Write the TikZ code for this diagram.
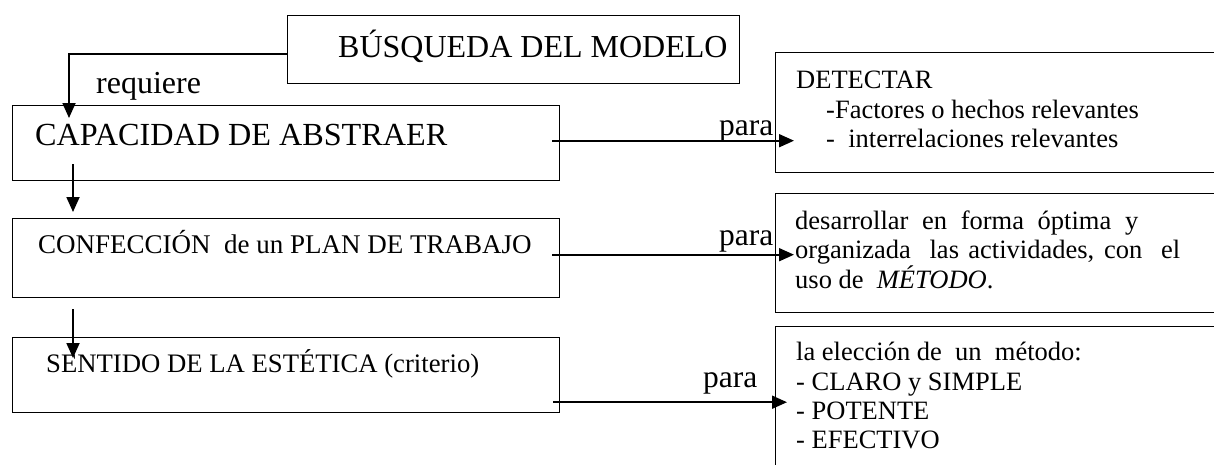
\documentclass[tikz,border=0pt]{standalone}
\usepackage{fontspec}
\setmainfont{Liberation Serif}
\usetikzlibrary{arrows.meta,calc}

\tikzset{
        box/.style={draw, line width=1.4pt, inner sep=0pt, anchor=north west},
        txt/.style={inner sep=0pt, anchor=base west},
        conn/.style={line width=1.8pt, -{Triangle[length=15pt,width=13pt]}},
        fs/.style={font=\fontsize{#1}{#1}\selectfont}
}

\begin{document}
\begin{tikzpicture}[x=1pt,y=-1pt]
        \useasboundingbox (0,0) rectangle (1214,464);
        \clip (0,0) rectangle (1214,464);

        \node[box, minimum width=452pt, minimum height=68pt] (busq) at (287,15) {};
        \node[box, minimum width=547.5pt, minimum height=75pt] (cap) at (11.5,105) {};
        \node[box, minimum width=547.5pt, minimum height=79pt] (conf) at (11.5,218) {};
        \node[box, minimum width=547.5pt, minimum height=75pt] (sent) at (11.5,337) {};
        \node[box, minimum width=500pt, minimum height=120pt] (det) at (775,52) {};
        \node[box, minimum width=500pt, minimum height=119pt] (plan) at (775,193) {};
        \node[box, minimum width=500pt, minimum height=180pt] (elec) at (775,326) {};

        \node[txt, fs=32] (tbusq) at (338,57) {BÚSQUEDA DEL MODELO};
        \node[txt, fs=32] (treq) at (96,93) {requiere};
        \node[txt, fs=32.2] (tcap) at (35,145) {CAPACIDAD DE ABSTRAER};
        \node[txt, fs=27] (tconf) at (38,253) {CONFECCIÓN\ \ de un PLAN DE TRABAJO};
        \node[txt, fs=26.7] (tsent) at (46,372) {SENTIDO DE LA ESTÉTICA (criterio)};

        \node[txt, fs=31.5] (para1) at (719,135) {para};
        \node[txt, fs=31.5] (para2) at (719,245) {para};
        \node[txt, fs=31.5] (para3) at (703,387) {para};

        \node[txt, fs=26.5] (det1) at (796,88) {DETECTAR};
        \node[txt, fs=26.5] (det2) at (826,118) {-Factores o hechos relevantes};
        \node[txt, fs=26.5] (det3) at (826,147) {-\ \ interrelaciones relevantes};

        \node[txt, fs=26.5] (plan1) at (795,229) {\makebox[343pt][s]{desarrollar en forma óptima y}};
        \node[txt, fs=26.5] (plan2) at (795,258) {\makebox[385pt][s]{organizada\ \ las actividades, con\ \ el}};
        \node[txt, fs=26.5] (plan3) at (795,288) {uso de\ \ \textit{MÉTODO}.};

        \node[txt, fs=26.5] (elec1) at (796,360) {la elección de\ \ un\ \ método:};
        \node[txt, fs=26.5] (elec2) at (796,390) {- CLARO y SIMPLE};
        \node[txt, fs=26.5] (elec3) at (796,419) {- POTENTE};
        \node[txt, fs=26.5] (elec4) at (796,448) {- EFECTIVO};

        \draw[conn] ($(busq.west)+(0,4)$) -| ($(cap.north west)+(57.5,13)$);
        \draw[conn] ($(cap.south west)+(61.5,-17)$) -- ($(conf.north west)+(61.5,-6)$);
        \draw[conn] ($(conf.south west)+(61.5,11)$) -- ($(sent.north west)+(61.5,21)$);
        \draw[conn] ($(cap.east)+(-8,-2.5)$) -- ($(cap.east -| det.west)+(19,-2.5)$);
        \draw[conn] ($(conf.east)+(-8,-3.5)$) -- ($(conf.east -| plan.west)+(19,-3.5)$);
        \draw[conn] ($(sent.east)+(-7,27)$) -- ($(sent.east -| elec.west)+(12,27)$);

    \end{tikzpicture}
\end{document}
